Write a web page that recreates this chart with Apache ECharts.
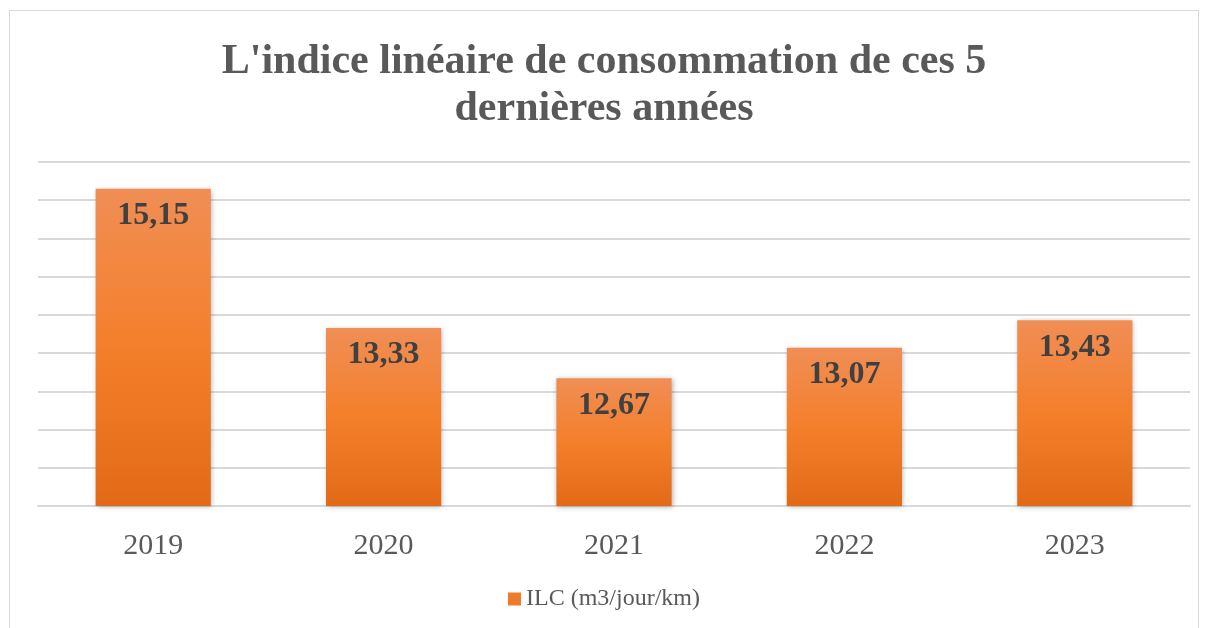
<!DOCTYPE html>
<html>
<head>
<meta charset="utf-8">
<script src="https://cdn.jsdelivr.net/npm/echarts@6/dist/echarts.min.js"></script>
<style>
  html, body { margin: 0; padding: 0; background: #fff; }
  #frame { position: absolute; left: 9px; top: 10px; width: 1190px; height: 630px; border: 1px solid #d9d9d9; box-sizing: border-box; }
  #chart { position: absolute; left: 0; top: 0; width: 1208px; height: 628px; }
</style>
</head>
<body>
<div id="frame"></div>
<div id="chart"></div>
<script>
const years = ['2019', '2020', '2021', '2022', '2023']
const ilcValues = [15.15, 13.33, 12.67, 13.07, 13.43]
const seriesName = 'ILC (m3/jour/km)'

const myChart = echarts.init(document.getElementById('chart'))

const barColor = new echarts.graphic.LinearGradient(0, 0, 0, 1, [
  { offset: 0, color: '#f08e55' },
  { offset: 0.5, color: '#f47f2b' },
  { offset: 1, color: '#e26a17' },
])

const option = {
  animation: false,
  title: {
    text: "L'indice linéaire de consommation de ces 5\ndernières années",
    left: 'center',
    top: 34,
    textStyle: {
      fontFamily: 'Liberation Serif',
      fontWeight: 'bold',
      fontSize: 42,
      lineHeight: 47,
      color: '#595959',
    },
  },
  legend: {
    bottom: 12,
    left: 'center',
    itemWidth: 13,
    itemHeight: 13,
    itemGap: 5,
    icon: 'rect',
    data: [{ name: seriesName, itemStyle: { color: '#ee7b2c' } }],
    textStyle: {
      fontFamily: 'Liberation Serif',
      fontSize: 24,
      color: '#595959',
    },
  },
  grid: { left: 38, right: 18, top: 162, bottom: 122 },
  xAxis: {
    type: 'category',
    data: years,
    axisLine: { lineStyle: { color: '#d9d9d9', width: 2 } },
    axisTick: { show: false },
    axisLabel: {
      margin: 25,
      fontFamily: 'Liberation Serif',
      fontSize: 30,
      color: '#595959',
    },
  },
  yAxis: {
    type: 'value',
    min: 11,
    max: 15.5,
    interval: 0.5,
    axisLabel: { show: false },
    axisLine: { show: false },
    axisTick: { show: false },
    splitLine: { lineStyle: { color: '#d9d9d9', width: 2 } },
  },
  series: [
    {
      name: seriesName,
      type: 'bar',
      data: ilcValues,
      barWidth: '50%',
      itemStyle: {
        color: barColor,
        shadowColor: 'rgba(0,0,0,0.3)',
        shadowBlur: 5,
        shadowOffsetX: 1,
        shadowOffsetY: 1,
      },
      label: {
        show: true,
        position: 'insideTop',
        distance: 11,
        formatter: (p) => p.value.toFixed(2).replace('.', ','),
        fontFamily: 'Liberation Serif',
        fontWeight: 'bold',
        fontSize: 32,
        color: '#404040',
      },
    },
  ],
}

myChart.setOption(option)
</script>
</body>
</html>
